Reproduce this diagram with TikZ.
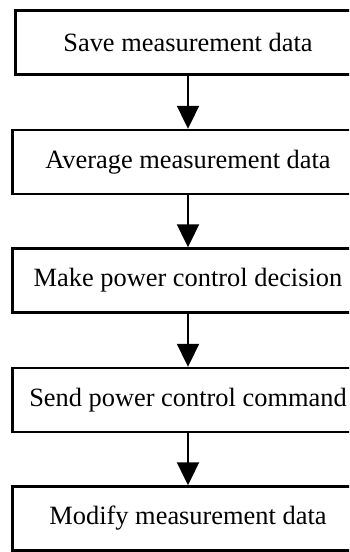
\documentclass[tikz,border=0pt]{standalone}
\usepackage{fontspec}
\setmainfont{Liberation Serif}
\usetikzlibrary{arrows.meta}
\begin{document}
\begin{tikzpicture}[x=1pt,y=-1pt,
  stepbox/.style={draw, line width=2.4pt, rectangle, minimum height=64pt,
    inner sep=0pt, align=center, font=\fontsize{26.4}{30}\selectfont},
  flow/.style={line width=2pt, -{Triangle[length=23pt,width=22pt]}}]
  \useasboundingbox (0,0) rectangle (349,552);
  \fill[white] (0,0) rectangle (349,552);
  \clip (0,0) rectangle (349,552);
  \node[stepbox, minimum width=345pt] (s1) at (188,42.5) {Save measurement data};
  \node[stepbox, minimum width=351pt] (s2) at (188,162) {Average measurement data};
  \node[stepbox, minimum width=351pt] (s3) at (188,280.5) {Make power control decision};
  \node[stepbox, minimum width=351pt] (s4) at (188,400) {Send power control command};
  \node[stepbox, minimum width=351pt] (s5) at (188,518.5) {Modify measurement data};
  \draw[flow] (s1) -- (s2);
  \draw[flow] (s2) -- (s3);
  \draw[flow] (s3) -- (s4);
  \draw[flow] (s4) -- (s5);
\end{tikzpicture}
\end{document}
